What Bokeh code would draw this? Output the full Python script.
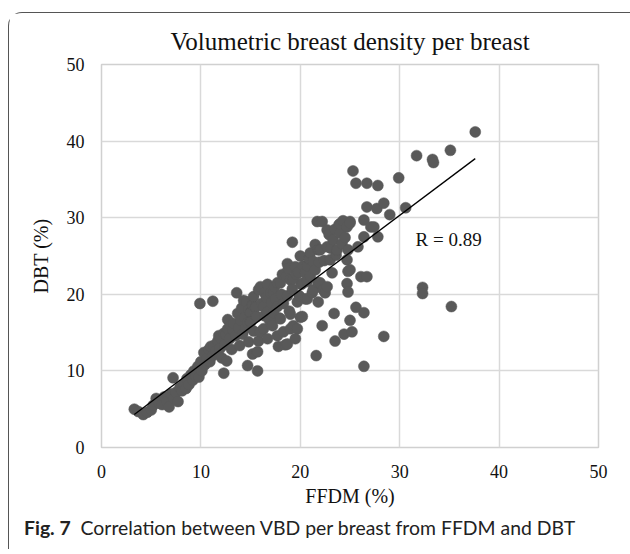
from bokeh.plotting import figure
from bokeh.models import Label, Range1d, FixedTicker, Div
from bokeh.layouts import column
from bokeh.embed import file_html
from bokeh.resources import INLINE

# ---- data (FFDM %, DBT %) ----
band_low = [(3.3, 5.0), (3.7, 4.7), (4.2, 4.3), (4.6, 4.6), (5.0, 4.9), (5.2, 5.5), (5.5, 6.4),
            (5.8, 5.8), (6.1, 5.6), (6.3, 6.6), (6.6, 6.0), (6.8, 5.3), (7.0, 7.0), (7.2, 9.1),
            (7.3, 6.4), (7.5, 7.2), (7.7, 6.0), (7.9, 7.8), (8.1, 7.4), (8.3, 8.3), (8.5, 7.7),
            (8.6, 9.0), (8.8, 8.2), (9.0, 9.5), (9.2, 8.8), (9.3, 10.0), (9.5, 9.3), (9.7, 10.6),
            (9.8, 9.2), (10.0, 11.2), (10.1, 10.0), (10.3, 12.4), (10.4, 10.8), (10.6, 11.6),
            (10.8, 12.8), (10.9, 11.2), (9.9, 18.8), (11.2, 19.1)]

band_mid = [(11.0, 13.2), (11.2, 12.0), (11.3, 13.3), (11.5, 12.6), (11.7, 13.9), (11.8, 14.6),
            (11.9, 12.9), (12.0, 14.3), (12.1, 11.7), (12.3, 9.7), (12.3, 14.9), (12.4, 13.4),
            (12.5, 14.8), (12.6, 11.3), (12.7, 15.5), (12.7, 16.7), (12.9, 14.2), (13.0, 15.9),
            (13.1, 12.8), (13.2, 15.4), (13.3, 16.2), (13.5, 14.6), (13.6, 20.2), (13.7, 17.5),
            (13.8, 15.6), (13.9, 13.3), (14.0, 16.6), (14.1, 18.2), (14.2, 14.8), (14.3, 19.2),
            (14.4, 17.0), (14.5, 15.6), (14.6, 19.0), (14.7, 10.7), (14.7, 16.3), (14.8, 13.8),
            (14.8, 18.0), (15.0, 17.6), (15.0, 16.4), (15.2, 12.2), (15.2, 18.6), (15.3, 19.7),
            (15.3, 15.2), (15.5, 18.3), (15.6, 17.1), (15.7, 12.5), (15.7, 10.0), (15.8, 13.9),
            (15.8, 20.6)]

band_high = [(16.0, 21.0), (16.0, 15.1), (16.1, 18.8), (16.3, 18.4), (16.3, 15.5), (16.4, 17.2),
             (16.4, 20.2), (16.6, 19.6), (16.7, 21.3), (16.7, 17.7), (16.7, 14.2), (16.9, 16.6),
             (17.0, 20.2), (17.1, 18.9), (17.2, 15.9), (17.3, 17.6), (17.3, 20.2), (17.4, 21.0),
             (17.5, 19.4), (17.7, 21.5), (17.7, 18.4), (17.7, 14.6), (17.8, 13.2), (17.9, 16.9),
             (18.0, 21.5), (18.0, 16.8), (18.1, 20.0), (18.2, 22.6), (18.3, 15.1), (18.3, 18.8),
             (18.5, 13.4), (18.6, 22.3), (18.7, 19.8), (18.7, 24.0), (18.8, 23.4), (18.7, 13.5),
             (18.9, 17.8), (19.0, 21.9), (19.0, 17.4), (19.0, 15.5), (19.2, 26.8), (19.2, 20.7),
             (19.3, 15.9), (19.3, 22.0), (19.5, 14.2), (19.5, 23.6), (19.6, 22.6), (19.7, 19.0),
             (19.7, 15.5), (19.8, 22.9), (19.9, 19.8), (20.0, 17.0), (20.0, 25.0), (20.1, 21.3)]

band_top = [(20.2, 17.1), (20.3, 21.5), (20.3, 23.7), (20.5, 19.4), (20.5, 22.8), (20.7, 19.4),
            (20.7, 21.7), (20.7, 23.7), (20.9, 24.6), (21.0, 25.4), (21.0, 22.4), (21.2, 20.2),
            (21.3, 24.3), (21.3, 20.6), (21.5, 23.2), (21.5, 26.5), (21.6, 12.0), (21.7, 29.5),
            (21.8, 25.8), (21.8, 21.5), (21.8, 19.0), (21.9, 24.2), (22.0, 25.8), (22.0, 21.5),
            (22.2, 29.5), (22.2, 15.9), (22.3, 20.6), (22.4, 24.4), (22.5, 20.2), (22.7, 26.2),
            (22.7, 28.4), (22.7, 21.0), (22.9, 27.8), (23.0, 24.5), (23.1, 26.0), (23.2, 22.8),
            (23.3, 27.1), (23.4, 17.5), (23.5, 13.9), (23.5, 28.5), (23.6, 25.1), (23.7, 25.8),
            (23.9, 29.1), (24.0, 28.0), (24.0, 29.2), (24.2, 26.6), (24.3, 29.6), (24.4, 14.8),
            (24.5, 27.4), (24.7, 28.8), (24.7, 24.5), (24.7, 21.4), (24.8, 20.3), (24.8, 25.8),
            (24.8, 23.0), (25.0, 29.5), (25.0, 29.3), (25.0, 23.2), (25.0, 16.6), (25.2, 15.1),
            (25.3, 36.1), (25.6, 34.5), (25.6, 18.3), (25.8, 26.2), (26.1, 22.3), (26.4, 27.5),
            (26.4, 29.7), (26.4, 17.6), (26.4, 10.6)]

band_tail = [(26.7, 34.5), (26.7, 31.4), (26.7, 22.3), (27.1, 28.8), (27.4, 28.8), (27.7, 31.2),
             (27.8, 34.2), (27.8, 27.5), (28.4, 31.9), (28.4, 14.5), (29.0, 30.4), (29.9, 35.2),
             (30.6, 31.3), (31.7, 38.1), (32.3, 20.9), (32.3, 20.1), (33.3, 37.6), (33.4, 37.2),
             (35.1, 38.8), (35.2, 18.4), (37.6, 41.2)]

points = band_low + band_mid + band_high + band_top + band_tail
ffdm = [pt[0] for pt in points]
dbt = [pt[1] for pt in points]

reg_slope = 0.974
reg_intercept = 1.09
r_text = "R = 0.89"
ticks = [0, 10, 20, 30, 40, 50]

title_text = "Volumetric breast density per breast"
x_label = "FFDM (%)"
y_label = "DBT (%)"
caption_bold = "Fig. 7"
caption_text = "Correlation between VBD per breast from FFDM and DBT"

SERIF = "Liberation Serif"

p = figure(width=612, height=496, output_backend="svg", toolbar_location=None,
           x_range=Range1d(0, 50), y_range=Range1d(0, 50),
           min_border_left=92, min_border_right=23, min_border_top=51, min_border_bottom=60,
           title=title_text)

p.title.align = "center"
p.title.text_font = SERIF
p.title.text_font_size = "25px"
p.title.text_font_style = "normal"
p.title.text_color = "#111111"
p.title.standoff = 20

for ax in (p.xaxis[0], p.yaxis[0]):
    ax.ticker = FixedTicker(ticks=ticks)
    ax.major_tick_line_color = None
    ax.minor_tick_line_color = None
    ax.axis_line_color = None
    ax.major_label_text_font = SERIF
    ax.major_label_text_font_size = "18px"
    ax.major_label_text_color = "#111111"
    ax.axis_label_text_font = SERIF
    ax.axis_label_text_font_size = "20px"
    ax.axis_label_text_font_style = "normal"
    ax.axis_label_text_color = "#111111"

p.xaxis.axis_label = x_label
p.yaxis.axis_label = y_label
p.xaxis.major_label_standoff = 11
p.yaxis.major_label_standoff = 11
p.xaxis.axis_label_standoff = 4
p.yaxis.axis_label_standoff = 12

p.xgrid.ticker = FixedTicker(ticks=ticks)
p.ygrid.ticker = FixedTicker(ticks=ticks)
p.grid.grid_line_color = "#d9d9d9"
p.grid.grid_line_width = 1.5
p.outline_line_color = "#d0d0d0"
p.outline_line_width = 1.5
p.background_fill_color = "white"

p.scatter(ffdm, dbt, size=11, fill_color="#595959", line_color="#595959", line_width=0.5)

x0, x1 = min(ffdm), max(ffdm)
p.line([x0, x1], [reg_slope * x0 + reg_intercept, reg_slope * x1 + reg_intercept],
       line_color="#000000", line_width=1.3)

p.add_layout(Label(x=31.6, y=27.2, text=r_text, text_font=SERIF, text_font_size="19px",
                   text_color="#111111", text_baseline="alphabetic"))

caption = Div(text=f'<span style="font-weight:bold">{caption_bold}</span>&nbsp;&nbsp;{caption_text}',
              width=612, height=30,
              styles={"font-family": "Lato", "font-size": "19.4px", "color": "#222222",
                      "line-height": "28px", "padding-left": "10px", "white-space": "nowrap"})

layout = column(p, caption, spacing=0,
                styles={"border-left": "1.5px solid #555555", "border-top": "1.5px solid #555555",
                        "border-top-left-radius": "14px", "margin-top": "12px", "margin-left": "8px"})

open("out.html", "w").write(file_html(layout, INLINE))
